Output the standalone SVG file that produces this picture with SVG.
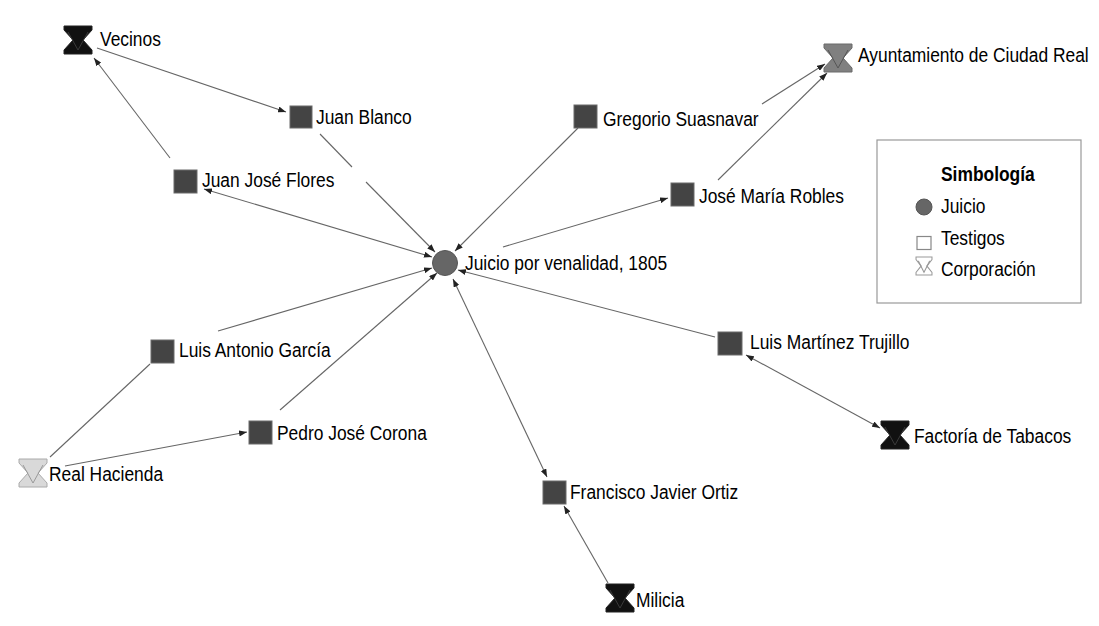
<svg xmlns="http://www.w3.org/2000/svg" xmlns:xlink="http://www.w3.org/1999/xlink" width="1099" height="626" viewBox="0 0 1099 626">
<style>
.lbl{font-family:"Liberation Sans",Arial,sans-serif;font-size:20px;fill:#000}
.bold{font-weight:bold}
.edge{stroke:#666;stroke-width:1.1;fill:none}
.sq{fill:#444;stroke:#6a6a6a;stroke-width:1}
</style>
<defs>
<marker id="ah" viewBox="0 0 8 6" refX="8" refY="3" markerWidth="8" markerHeight="6" markerUnits="userSpaceOnUse" orient="auto-start-reverse">
<path d="M0,0 L8,3 L0,6 Z" fill="#222"/>
</marker>
<path id="hgs" d="M-14,-14 H14 V-10 L5,0 L14,10 V14 H-14 V10 L-5,0 L-14,-10 Z"/>
<path id="hgv" d="M-10,-8 L0,10 L10,-8" fill="none"/>
</defs>
<rect width="1099" height="626" fill="#fff"/>

<g id="connectors">
<line class="edge" x1="97" y1="48" x2="286" y2="112" marker-end="url(#ah)"/>
<line class="edge" x1="170" y1="158" x2="94" y2="58" marker-end="url(#ah)"/>
<line class="edge" x1="320" y1="134" x2="352" y2="167"/>
<line class="edge" x1="366" y1="182" x2="435" y2="252" marker-end="url(#ah)"/>
<line class="edge" x1="204" y1="189" x2="432" y2="257" marker-start="url(#ah)" marker-end="url(#ah)"/>
<line class="edge" x1="578" y1="128" x2="455" y2="251" marker-end="url(#ah)"/>
<line class="edge" x1="762" y1="104" x2="825" y2="64" marker-end="url(#ah)"/>
<line class="edge" x1="718" y1="180" x2="827" y2="73" marker-end="url(#ah)"/>
<line class="edge" x1="503" y1="247" x2="668" y2="198" marker-end="url(#ah)"/>
<line class="edge" x1="218" y1="331" x2="432" y2="268" marker-end="url(#ah)"/>
<line class="edge" x1="280" y1="410" x2="437" y2="273" marker-end="url(#ah)"/>
<line class="edge" x1="50" y1="457" x2="150" y2="364"/>
<line class="edge" x1="65" y1="466" x2="247" y2="432" marker-end="url(#ah)"/>
<line class="edge" x1="715" y1="337" x2="458" y2="270" marker-end="url(#ah)"/>
<line class="edge" x1="746" y1="355" x2="880" y2="428" marker-start="url(#ah)" marker-end="url(#ah)"/>
<line class="edge" x1="453" y1="279" x2="547" y2="477" marker-start="url(#ah)" marker-end="url(#ah)"/>
<line class="edge" x1="608" y1="583" x2="564" y2="506" marker-end="url(#ah)"/>
</g>

<g id="juicio">
<circle cx="445" cy="263" r="12.5" fill="#666" stroke="#555" stroke-width="1"/>
<text class="lbl" transform="translate(465,270) scale(0.87 1)">Juicio por venalidad, 1805</text>
</g>

<g id="juan-blanco">
<rect class="sq" x="290" y="106" width="22" height="22"/>
<text class="lbl" transform="translate(316,124) scale(0.87 1)">Juan Blanco</text>
</g>
<g id="juan-jose-flores">
<rect class="sq" x="174" y="170" width="23" height="23"/>
<text class="lbl" transform="translate(202,187) scale(0.87 1)">Juan José Flores</text>
</g>
<g id="gregorio-suasnavar">
<rect class="sq" x="574" y="105" width="23" height="23"/>
<text class="lbl" transform="translate(603,126) scale(0.87 1)">Gregorio Suasnavar</text>
</g>
<g id="jose-maria-robles">
<rect class="sq" x="671" y="183" width="23" height="23"/>
<text class="lbl" transform="translate(699,203) scale(0.87 1)">José María Robles</text>
</g>
<g id="luis-antonio-garcia">
<rect class="sq" x="151" y="340" width="23" height="23"/>
<text class="lbl" transform="translate(179,357) scale(0.87 1)">Luis Antonio García</text>
</g>
<g id="pedro-jose-corona">
<rect class="sq" x="249" y="421" width="23" height="23"/>
<text class="lbl" transform="translate(277,440) scale(0.87 1)">Pedro José Corona</text>
</g>
<g id="luis-martinez-trujillo">
<rect class="sq" x="718" y="332" width="24" height="23"/>
<text class="lbl" transform="translate(750,349) scale(0.87 1)">Luis Martínez Trujillo</text>
</g>
<g id="francisco-javier-ortiz">
<rect class="sq" x="543" y="481" width="23" height="23"/>
<text class="lbl" transform="translate(570,499) scale(0.87 1)">Francisco Javier Ortiz</text>
</g>

<g id="vecinos">
<use xlink:href="#hgs" href="#hgs" transform="translate(78,40)" fill="#111" stroke="#222"/>
<use xlink:href="#hgv" href="#hgv" transform="translate(78,40)" stroke="#3a3a3a"/>
<text class="lbl" transform="translate(100,46) scale(0.87 1)">Vecinos</text>
</g>
<g id="ayuntamiento">
<use xlink:href="#hgs" href="#hgs" transform="translate(838,58)" fill="#808080" stroke="#6a6a6a"/>
<use xlink:href="#hgv" href="#hgv" transform="translate(838,58)" stroke="#555"/>
<text class="lbl" transform="translate(858,62) scale(0.87 1)">Ayuntamiento de Ciudad Real</text>
</g>
<g id="real-hacienda">
<use xlink:href="#hgs" href="#hgs" transform="translate(33,473)" fill="#d9d9d9" stroke="#aaa"/>
<use xlink:href="#hgv" href="#hgv" transform="translate(33,473)" stroke="#999"/>
<text class="lbl" transform="translate(49,481) scale(0.87 1)">Real Hacienda</text>
</g>
<g id="factoria-de-tabacos">
<use xlink:href="#hgs" href="#hgs" transform="translate(895,435)" fill="#111" stroke="#222"/>
<use xlink:href="#hgv" href="#hgv" transform="translate(895,435)" stroke="#3a3a3a"/>
<text class="lbl" transform="translate(914,443) scale(0.87 1)">Factoría de Tabacos</text>
</g>
<g id="milicia">
<use xlink:href="#hgs" href="#hgs" transform="translate(620,598)" fill="#111" stroke="#222"/>
<use xlink:href="#hgv" href="#hgv" transform="translate(620,598)" stroke="#3a3a3a"/>
<text class="lbl" transform="translate(636,607) scale(0.87 1)">Milicia</text>
</g>

<g id="legend">
<rect x="877" y="140" width="204" height="163" fill="#fff" stroke="#999" stroke-width="1.2"/>
<text class="lbl bold" transform="translate(941,181) scale(0.87 1)">Simbología</text>
<circle cx="924" cy="207" r="8" fill="#666" stroke="#555"/>
<text class="lbl" transform="translate(941,213) scale(0.87 1)">Juicio</text>
<rect x="917" y="236.5" width="14" height="13" fill="#fff" stroke="#888" stroke-width="1.2"/>
<text class="lbl" transform="translate(941,245) scale(0.87 1)">Testigos</text>
<use xlink:href="#hgs" href="#hgs" transform="translate(924,266) scale(0.57 0.64)" fill="#fff" stroke="#999" stroke-width="1.8"/>
<use xlink:href="#hgv" href="#hgv" transform="translate(924,266) scale(0.57 0.64)" stroke="#999" stroke-width="1.8"/>
<text class="lbl" transform="translate(941,276) scale(0.87 1)">Corporación</text>
</g>
</svg>
